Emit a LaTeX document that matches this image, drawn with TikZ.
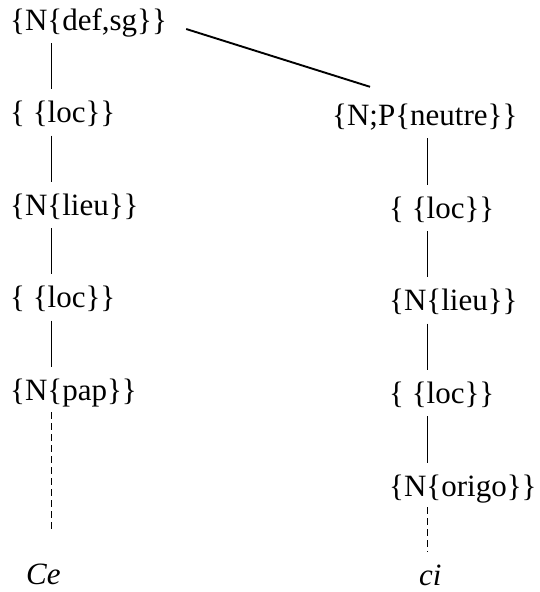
\documentclass[tikz,border=0pt]{standalone}
\usepackage{fontspec}
\setmainfont{Liberation Serif}
\usetikzlibrary{calc}
\begin{document}
\begin{tikzpicture}[x=1pt,y=1pt,
  lab/.style={anchor=base west,inner sep=0pt,font=\fontsize{31}{37}\selectfont,text height=21pt,text depth=6pt},
  edge/.style={line width=1.9pt,shorten <=7pt,shorten >=12pt},
  dashedge/.style={line width=1.9pt,dash pattern=on 7pt off 4pt}]
\useasboundingbox (0,0) rectangle (540,-592);
\coordinate (L) at (51.5,0);
\coordinate (R) at (427.5,0);
\node[lab] (l1) at (10,-30) {\{N\{def,sg\}\}};
\node[lab] (l2) at (10,-122.5) {\{ \{loc\}\}};
\node[lab] (l3) at (10,-215) {\{N\{lieu\}\}};
\node[lab] (l4) at (10,-307.5) {\{ \{loc\}\}};
\node[lab] (l5) at (10,-400) {\{N\{pap\}\}};
\node[lab] (ce) at (26,-584) {\textit{Ce}};
\node[lab] (r1) at (332,-125) {\{N;P\{neutre\}\}};
\node[lab] (r2) at (389,-218) {\{ \{loc\}\}};
\node[lab] (r3) at (389,-310.5) {\{N\{lieu\}\}};
\node[lab] (r4) at (389,-403) {\{ \{loc\}\}};
\node[lab] (r5) at (389,-496) {\{N\{origo\}\}};
\node[lab] (ci) at (419,-585) {\textit{ci}};
\draw[edge] (l1.south -| L) -- (l2.north -| L);
\draw[edge] (l2.south -| L) -- (l3.north -| L);
\draw[edge] (l3.south -| L) -- (l4.north -| L);
\draw[edge] (l4.south -| L) -- (l5.north -| L);
\draw[dashedge,shorten <=6pt,shorten >=31pt] (l5.south -| L) -- (ce.north -| L);
\draw[edge] (r1.south -| R) -- (r2.north -| R);
\draw[edge] (r2.south -| R) -- (r3.north -| R);
\draw[edge] (r3.south -| R) -- (r4.north -| R);
\draw[edge] (r4.south -| R) -- (r5.north -| R);
\draw[dashedge,shorten <=5pt,shorten >=12pt] (r5.south -| R) -- (ci.north -| R);
\draw[line width=1.9pt] ($(l1.base east)+(19,1)$) -- ($(r1.north west)+(38,17)$);
\end{tikzpicture}
\end{document}
